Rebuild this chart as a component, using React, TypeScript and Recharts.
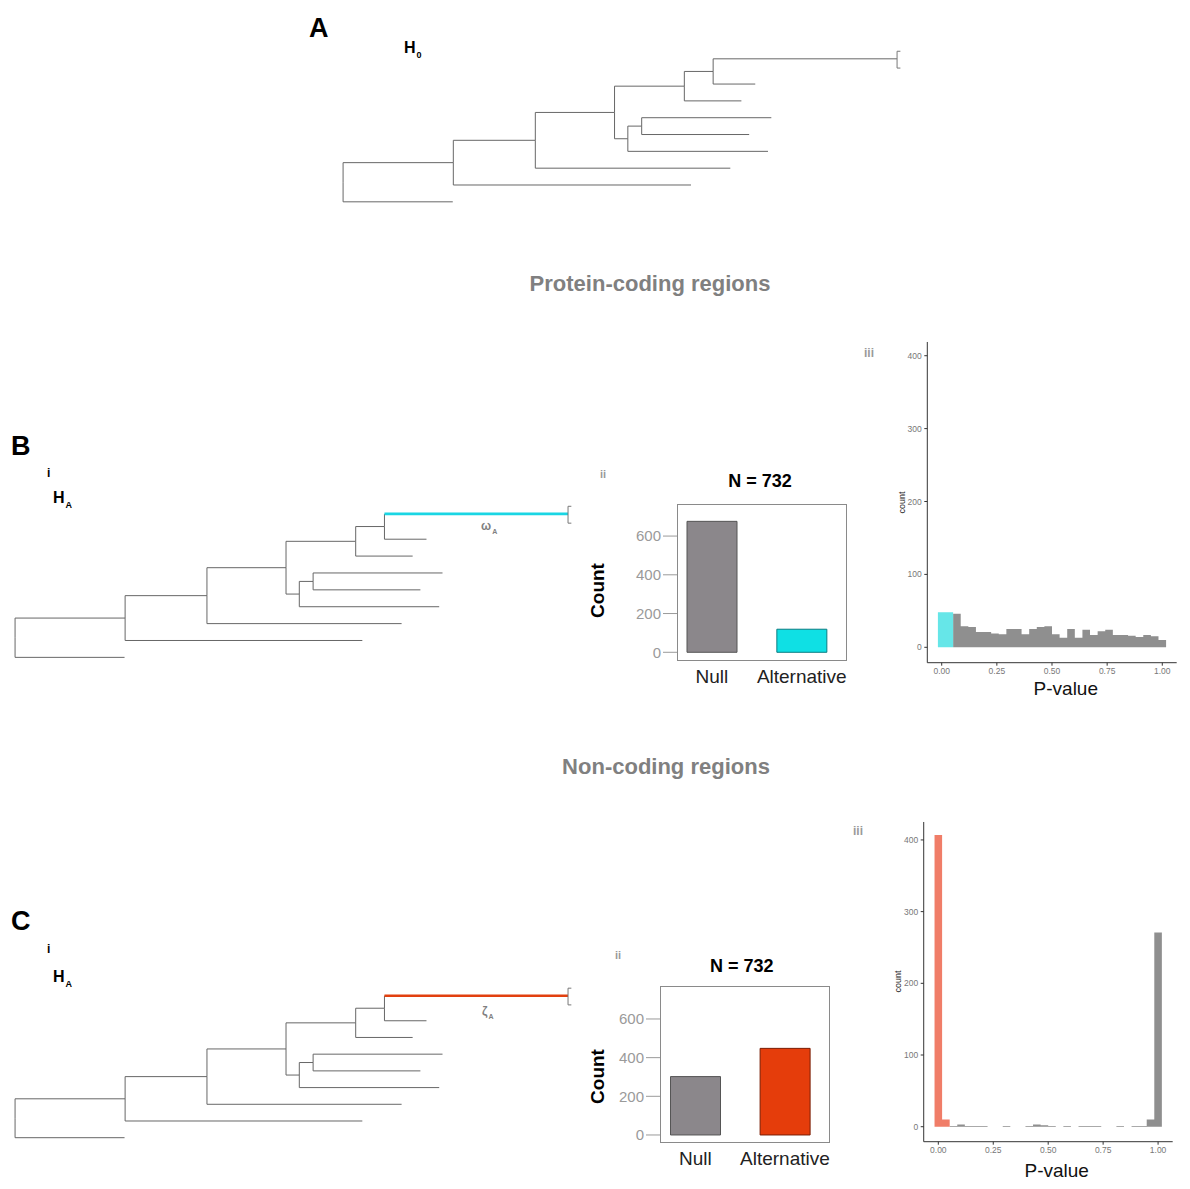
import React from 'react'
import {
  ScatterChart, Scatter, BarChart, Bar, Cell, AreaChart, Area, XAxis, YAxis,
} from 'recharts'

const FONT = '"Liberation Sans", Arial, Helvetica, sans-serif'

// phylogeny shared by A, B and C: [parent, child, branch length]
const TREE_EDGES: [string, string, number][] = [
  ['root', 'n1', 19.9], ['root', 't9', 19.8],
  ['n1', 'n2', 14.8], ['n1', 't8', 42.9],
  ['n2', 'n3', 14.3], ['n2', 't7', 35.2],
  ['n3', 'n4', 12.6], ['n3', 'n5', 2.4],
  ['n4', 'n6', 5.2], ['n4', 't3', 10.3],
  ['n6', 't1', 33.2], ['n6', 't2', 7.6],
  ['n5', 'n7', 2.5], ['n5', 't6', 25.3],
  ['n7', 't4', 23.4], ['n7', 't5', 19.4],
]
// vertical row of each tip, top to bottom
const TIP_ROWS: [string, number][] = [
  ['t1', 0], ['t2', 1.5], ['t3', 2.5], ['t4', 3.5], ['t5', 4.5],
  ['t6', 5.5], ['t7', 6.5], ['t8', 7.5], ['t9', 8.5],
]
const FOCAL_TIP = 't1'

// ii: which model was preferred
const MODEL_LABELS = ['Null', 'Alternative']
const CODING_COUNTS = [676, 119]
const NONCODING_COUNTS = [302, 448]
const COUNT_TICKS = [0, 200, 400, 600]

// iii: p-value histograms, 30 bins of width 1/29 centred on 0 .. 1
const CODING_PVAL_BINS = [
  48, 48, 46, 29, 28, 21, 21, 19, 18, 25, 25, 18, 25, 28, 29,
  18, 13, 25, 13, 24, 17, 22, 24, 17, 17, 16, 14, 17, 15, 10,
]
const NONCODING_PVAL_BINS = [
  407, 10, 1, 3, 1, 1, 1, 0, 0, 1, 0, 0, 1, 3, 2,
  1, 0, 1, 0, 1, 1, 1, 0, 0, 1, 0, 1, 1, 10, 271,
]
const SIG_BINS = 2
const BIN_WIDTH = 1 / 29
const P_TICKS = [0, 0.25, 0.5, 0.75, 1]
const HIST_TICKS = [0, 100, 200, 300, 400]

const TREE_GREY = '#666'
const NULL_FILL = '#8b878b'
const NULL_STROKE = '#555'
const HIST_GREY = '#8f8f8f'

function layoutTree() {
  const kids = new Map<string, string[]>()
  const depth = new Map<string, number>([['root', 0]])
  for (const [p, c, len] of TREE_EDGES) {
    kids.set(p, [...(kids.get(p) ?? []), c])
    depth.set(c, depth.get(p)! + len)
  }
  const row = new Map<string, number>(TIP_ROWS)
  const rowOf = (n: string): number => {
    if (row.has(n)) return row.get(n)!
    const ys = kids.get(n)!.map(rowOf)
    const r = (Math.min(...ys) + Math.max(...ys)) / 2
    row.set(n, r)
    return r
  }
  rowOf('root')
  return TREE_EDGES.map(([p, c]) => ({
    child: c, px: depth.get(p)!, py: row.get(p)!, cx: depth.get(c)!, cy: row.get(c)!,
  }))
}

const Empty = () => <g />

function TreePanel({ rootX, tipX, row0Y, lastY, focal }: {
  rootX: number; tipX: number; row0Y: number; lastY: number; focal?: string
}) {
  const edges = layoutTree()
  const maxDepth = Math.max(...edges.map((e) => e.cx))
  const maxRow = Math.max(...edges.map((e) => e.cy))
  const ux = (tipX - rootX) / maxDepth
  const uy = (lastY - row0Y) / maxRow
  const xd = [-2, maxDepth + 4]
  const yd = [-1, maxRow + 0.5]
  const segs: { pts: { x: number; y: number }[]; color: string; w: number }[] = []
  edges.forEach((e) => {
    const hot = focal && e.child === FOCAL_TIP
    segs.push({
      pts: hot
        ? [{ x: e.px, y: e.py }, { x: e.px, y: e.cy }]
        : [{ x: e.px, y: e.py }, { x: e.px, y: e.cy }, { x: e.cx, y: e.cy }],
      color: TREE_GREY, w: 1,
    })
    if (hot) segs.push({ pts: [{ x: e.px, y: e.cy }, { x: e.cx, y: e.cy }], color: focal!, w: 2.6 })
    if (e.child === FOCAL_TIP) {
      segs.push({
        pts: [
          { x: e.cx + 0.6, y: e.cy - 0.45 }, { x: e.cx, y: e.cy - 0.45 },
          { x: e.cx, y: e.cy + 0.55 }, { x: e.cx + 0.6, y: e.cy + 0.55 },
        ],
        color: '#777', w: 1,
      })
    }
  })
  return (
    <div style={{ position: 'absolute', left: rootX + xd[0] * ux, top: row0Y + yd[0] * uy }}>
      <ScatterChart
        width={(xd[1] - xd[0]) * ux}
        height={(yd[1] - yd[0]) * uy}
        margin={{ top: 0, right: 0, bottom: 0, left: 0 }}
      >
        <XAxis type="number" dataKey="x" domain={xd} allowDataOverflow hide />
        <YAxis type="number" dataKey="y" domain={yd} allowDataOverflow reversed hide />
        {segs.map((s, i) => (
          <Scatter
            key={i}
            data={s.pts}
            line={{ stroke: s.color, strokeWidth: s.w }}
            lineType="joint"
            shape={Empty}
            isAnimationActive={false}
          />
        ))}
      </ScatterChart>
    </div>
  )
}

function ModelBars({ left, top, counts, altFill, altStroke, domain, padLeft }: {
  left: number; top: number; counts: number[]; altFill: string; altStroke: string
  domain: [number, number]; padLeft: number
}) {
  const data = MODEL_LABELS.map((m, i) => ({ model: m, count: counts[i] }))
  return (
    <div style={{ position: 'absolute', left, top }}>
      <BarChart width={260} height={201} data={data} margin={{ top: 14.3, right: 13.3, left: 0, bottom: 0 }}>
        <XAxis
          dataKey="model"
          axisLine={false}
          tickLine={false}
          tickSize={0}
          tickMargin={9}
          height={30}
          interval={0}
          padding={{ left: padLeft, right: 0 }}
          tick={{ fontSize: 19, fill: '#222', fontFamily: FONT }}
        />
        <YAxis
          width={77}
          domain={domain}
          ticks={COUNT_TICKS}
          allowDataOverflow
          axisLine={false}
          tickSize={14}
          tickMargin={2}
          tickLine={{ stroke: '#9a9a9a' }}
          tick={{ fontSize: 15, fill: '#9a9a9a', fontFamily: FONT }}
        />
        <Bar dataKey="count" barSize={50} isAnimationActive={false}>
          {data.map((d, i) => (
            <Cell key={d.model} fill={i === 0 ? NULL_FILL : altFill} stroke={i === 0 ? NULL_STROKE : altStroke} />
          ))}
        </Bar>
      </BarChart>
      <div style={{
        position: 'absolute', left: 77, top: 14.3, width: 169.7, height: 156.7,
        border: '1px solid #8a8a8a', boxSizing: 'border-box', pointerEvents: 'none',
      }} />
    </div>
  )
}

function PvalHist({ left, top, height, yWidth, bins, sigColor, xDomain, yDomain }: {
  left: number; top: number; height: number; yWidth: number; bins: number[]; sigColor: string
  xDomain: [number, number]; yDomain: [number, number]
}) {
  const rows = bins.map((n, k) => ({
    x: (k - 0.5) * BIN_WIDTH,
    sig: k < SIG_BINS ? n : 0,
    ns: k < SIG_BINS ? 0 : n,
  }))
  rows.push({ x: (bins.length - 0.5) * BIN_WIDTH, sig: 0, ns: 0 })
  const tick = { fontSize: 8.5, fill: '#777', fontFamily: FONT }
  return (
    <div style={{ position: 'absolute', left, top }}>
      <AreaChart width={300} height={height} data={rows} margin={{ top: 12, right: 13.3, left: 0, bottom: 0 }}>
        <XAxis
          type="number"
          dataKey="x"
          domain={xDomain}
          allowDataOverflow
          ticks={P_TICKS}
          tickFormatter={(v: number) => v.toFixed(2)}
          axisLine={{ stroke: '#333' }}
          tickLine={{ stroke: '#333' }}
          tickSize={3}
          tickMargin={2}
          height={20}
          tick={tick}
        />
        <YAxis
          type="number"
          domain={yDomain}
          allowDataOverflow
          ticks={HIST_TICKS}
          width={yWidth}
          axisLine={{ stroke: '#333' }}
          tickLine={{ stroke: '#333' }}
          tickSize={3}
          tickMargin={2.6}
          tick={tick}
        />
        <Area dataKey="ns" type="stepAfter" stroke="none" fill={HIST_GREY} fillOpacity={1} baseValue={0} isAnimationActive={false} />
        <Area dataKey="sig" type="stepAfter" stroke="none" fill={sigColor} fillOpacity={1} baseValue={0} isAnimationActive={false} />
      </AreaChart>
    </div>
  )
}

function Txt({ x, cy, size, weight = 700, color = '#000', center, rotate, children }: {
  x: number; cy: number; size: number; weight?: number; color?: string
  center?: boolean; rotate?: boolean; children: React.ReactNode
}) {
  const shift = center || rotate ? 'translateX(-50%)' : ''
  return (
    <div style={{
      position: 'absolute', left: x, top: cy - size / 2, fontSize: size, lineHeight: `${size}px`,
      fontWeight: weight, color, whiteSpace: 'nowrap',
      transform: rotate ? `${shift} rotate(-90deg)` : shift,
    }}>
      {children}
    </div>
  )
}

const Sub = ({ children, size }: { children: React.ReactNode; size: number }) => (
  <span style={{ fontSize: size, position: 'relative', top: size * 0.55, marginLeft: 1 }}>{children}</span>
)

export default function App() {
  return (
    <div style={{
      position: 'absolute', left: 0, top: 0, width: 1190, height: 1189,
      background: '#fff', fontFamily: FONT, overflow: 'hidden',
    }}>
      {/* A */}
      <Txt x={309} cy={28} size={27}>A</Txt>
      <Txt x={404} cy={48} size={16}>H<Sub size={9}>0</Sub></Txt>
      <TreePanel rootX={343} tipX={897} row0Y={59} lastY={202} />

      <Txt x={650} cy={284} size={22} color="#808080" center>Protein-coding regions</Txt>

      {/* B */}
      <Txt x={11} cy={446.5} size={27}>B</Txt>
      <Txt x={47} cy={472.5} size={12}>i</Txt>
      <Txt x={53} cy={498} size={16}>H<Sub size={9}>A</Sub></Txt>
      <TreePanel rootX={15} tipX={568} row0Y={513.5} lastY={657} focal="#1ad6e4" />
      <Txt x={481} cy={526} size={12} weight={700} color="#808080">ω<Sub size={7}>A</Sub></Txt>

      <Txt x={600} cy={474} size={11} color="#9a9a9a">ii</Txt>
      <Txt x={760} cy={481} size={18} center>N = 732</Txt>
      <Txt x={596.5} cy={590} size={19} rotate>Count</Txt>
      <ModelBars left={600} top={490} counts={CODING_COUNTS} altFill="#0fe0e4" altStroke="#0a7c82" domain={[-45, 764]} padLeft={-10} />

      <Txt x={864} cy={353} size={12} color="#9a9a9a">iii</Txt>
      <Txt x={902} cy={502} size={9} weight={400} color="#222" rotate>count</Txt>
      <Txt x={1065.8} cy={688} size={19} weight={400} color="#111" center>P-value</Txt>
      <PvalHist
        left={890} top={330} height={352.7} yWidth={37.3}
        bins={CODING_PVAL_BINS} sigColor="#66e6e8"
        xDomain={[-0.0653, 1.0653]} yDomain={[-21.1, 418.8]}
      />

      <Txt x={666} cy={767} size={22} color="#808080" center>Non-coding regions</Txt>

      {/* C */}
      <Txt x={11} cy={921} size={27}>C</Txt>
      <Txt x={47} cy={949} size={12}>i</Txt>
      <Txt x={53} cy={977} size={16}>H<Sub size={9}>A</Sub></Txt>
      <TreePanel rootX={15} tipX={568} row0Y={996} lastY={1138} focal="#e2400f" />
      <Txt x={482} cy={1011} size={12} weight={700} color="#808080">ζ<Sub size={7}>A</Sub></Txt>

      <Txt x={615} cy={955} size={11} color="#9a9a9a">ii</Txt>
      <Txt x={741.7} cy={965.5} size={18} center>N = 732</Txt>
      <Txt x={596.7} cy={1076.7} size={19} rotate>Count</Txt>
      <ModelBars left={583} top={972} counts={NONCODING_COUNTS} altFill="#e53d0b" altStroke="#7a1e05" domain={[-41.5, 769]} padLeft={-9.5} />

      <Txt x={853} cy={831} size={12} color="#9a9a9a">iii</Txt>
      <Txt x={898} cy={981.7} size={9} weight={400} color="#222" rotate>count</Txt>
      <Txt x={1056.7} cy={1170} size={19} weight={400} color="#111" center>P-value</Txt>
      <PvalHist
        left={886} top={810} height={351.7} yWidth={37.7}
        bins={NONCODING_PVAL_BINS} sigColor="#f07d68"
        xDomain={[-0.0665, 1.0665]} yDomain={[-20.9, 425]}
      />
    </div>
  )
}
